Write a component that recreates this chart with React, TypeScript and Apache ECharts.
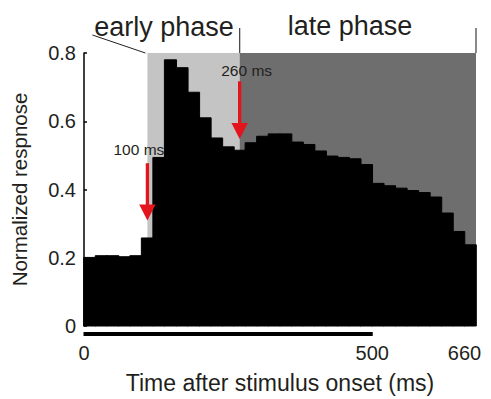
import React, { useEffect, useRef } from "react";
import * as echarts from "echarts";

// ---- data ----
const binStarts = [0, 20, 40, 60, 80, 100, 120, 140, 160, 180, 200, 220, 240, 260, 280, 300, 320, 340, 360, 380, 400, 420, 440, 460, 480, 500, 520, 540, 560, 580, 600, 620, 640, 660];
const binWidth = 20;
const responses = [0.201, 0.206, 0.206, 0.203, 0.206, 0.258, 0.494, 0.780, 0.757, 0.685, 0.610, 0.551, 0.525, 0.515, 0.537, 0.556, 0.563, 0.563, 0.539, 0.532, 0.513, 0.498, 0.494, 0.490, 0.473, 0.418, 0.411, 0.404, 0.397, 0.391, 0.378, 0.331, 0.277, 0.238];
const xTickLabels = [0, 500, 660];
const phaseNames = ["early phase", "late phase"];
const phaseStarts = [110, 270];
const phaseEnds = [270, 680];
const phaseTop = 0.8;
const arrowTimes = [110, 270];
const arrowStartValues = [0.477, 0.717];
const arrowTipValues = [0.309, 0.548];
const arrowLabels = ["100 ms", "260 ms"];
const scaleBarRange = [0, 500];

// ---- styles ----
const FONT = "'Liberation Sans', Arial, Helvetica, sans-serif";
const TEXT = "#231f20";
const phaseColors = ["#c4c4c4", "#6e6e6e"];
const arrowLabelOffsets = [
  [-8.5, -14],
  [7, -10.6],
];

export default function App() {
  const ref = useRef<HTMLDivElement>(null);

  useEffect(() => {
    if (!ref.current) return;
    const chart = echarts.init(ref.current, undefined, { renderer: "svg" });

    const option: any = {
      animation: false,
      backgroundColor: "#ffffff",
      textStyle: { fontFamily: FONT },
      grid: { left: 84, right: 15, top: 53, bottom: 64 },
      xAxis: {
        type: "value",
        min: 0,
        max: 680,
        interval: 20,
        axisLine: { show: false },
        axisTick: { show: false },
        splitLine: { show: false },
        axisLabel: {
          fontSize: 20,
          color: TEXT,
          fontFamily: FONT,
          margin: 17,
          formatter: (v: number) => (xTickLabels.indexOf(v) >= 0 ? String(v) : ""),
        },
        name: "Time after stimulus onset (ms)",
        nameLocation: "middle",
        nameGap: 45,
        nameTextStyle: { fontSize: 23, color: TEXT, fontFamily: FONT },
      },
      yAxis: {
        type: "value",
        min: 0,
        max: 0.8,
        interval: 0.2,
        axisLine: { show: true, lineStyle: { color: "#000", width: 1.5 } },
        axisTick: { show: true, inside: true, length: 3, lineStyle: { color: "#000", width: 1.5 } },
        splitLine: { show: false },
        axisLabel: {
          fontSize: 20,
          color: TEXT,
          fontFamily: FONT,
          margin: 8,
          formatter: (v: number) => (v === 0 ? "0" : v.toFixed(1)),
        },
        name: "Normalized respnose",
        nameLocation: "middle",
        nameGap: 54,
        nameTextStyle: { fontSize: 20.5, color: TEXT, fontFamily: FONT },
        z: 5,
      },
      graphic: [
        {
          type: "text",
          x: 164,
          y: 27,
          style: { text: phaseNames[0], fontSize: 27, fontFamily: FONT, fill: TEXT, textAlign: "center", textVerticalAlign: "middle" },
        },
        {
          type: "text",
          x: 350,
          y: 26,
          style: { text: phaseNames[1], fontSize: 27, fontFamily: FONT, fill: TEXT, textAlign: "center", textVerticalAlign: "middle" },
        },
      ],
      series: [
        {
          type: "custom",
          name: "phases",
          z: 1,
          clip: false,
          data: phaseStarts.map((s, i) => [s, phaseEnds[i], phaseTop, i]),
          renderItem: (params: any, api: any) => {
            const i = api.value(3);
            const p0 = api.coord([api.value(0), api.value(2)]);
            const p1 = api.coord([api.value(1), 0]);
            const children: any[] = [
              {
                type: "rect",
                shape: { x: p0[0], y: p0[1], width: p1[0] - p0[0], height: p1[1] - p0[1] },
                style: { fill: phaseColors[i] },
              },
              {
                type: "line",
                shape: { x1: p1[0], y1: p0[1], x2: p1[0], y2: p0[1] - 25 },
                style: { stroke: "#4a4a4a", lineWidth: 1.3 },
              },
            ];
            if (i === 0) {
              children.push({
                type: "line",
                shape: { x1: p0[0] - 2, y1: p0[1], x2: p0[0] - 55, y2: p0[1] - 18 },
                style: { stroke: "#231f20", lineWidth: 1 },
              });
            }
            return { type: "group", children };
          },
        },
        {
          type: "custom",
          name: "response",
          z: 2,
          data: binStarts.map((s, i) => [s, s + binWidth, responses[i]]),
          renderItem: (params: any, api: any) => {
            const p0 = api.coord([api.value(0), api.value(2)]);
            const p1 = api.coord([api.value(1), 0]);
            return {
              type: "rect",
              shape: { x: p0[0] - 0.3, y: p0[1], width: p1[0] - p0[0] + 0.6, height: p1[1] - p0[1] },
              style: { fill: "#000", stroke: "#000", lineWidth: 1 },
            };
          },
        },
        {
          type: "custom",
          name: "arrows",
          z: 3,
          clip: false,
          data: arrowTimes.map((t, i) => [t, arrowStartValues[i], arrowTipValues[i], i]),
          renderItem: (params: any, api: any) => {
            const i = api.value(3);
            const start = api.coord([api.value(0), api.value(1)]);
            const tip = api.coord([api.value(0), api.value(2)]);
            const headH = 16;
            const headW = 8.2;
            const shaftW = 3.3;
            const x = start[0];
            return {
              type: "group",
              children: [
                {
                  type: "rect",
                  shape: { x: x - shaftW / 2, y: start[1], width: shaftW, height: tip[1] - headH - start[1] + 1 },
                  style: { fill: "#e3141b" },
                },
                {
                  type: "polygon",
                  shape: { points: [[x - headW, tip[1] - headH], [x + headW, tip[1] - headH], [x, tip[1]]] },
                  style: { fill: "#e3141b" },
                },
                {
                  type: "text",
                  x: x + arrowLabelOffsets[i][0],
                  y: start[1] + arrowLabelOffsets[i][1],
                  style: {
                    text: arrowLabels[i],
                    fontSize: 15.5,
                    fontFamily: FONT,
                    fill: TEXT,
                    textAlign: "center",
                    textVerticalAlign: "middle",
                  },
                },
              ],
            };
          },
        },
        {
          type: "custom",
          name: "scalebar",
          z: 3,
          clip: false,
          data: [scaleBarRange],
          renderItem: (params: any, api: any) => {
            const a = api.coord([api.value(0), 0]);
            const b = api.coord([api.value(1), 0]);
            return {
              type: "rect",
              shape: { x: a[0] - 0.5, y: a[1] + 6, width: b[0] - a[0] + 1, height: 4 },
              style: { fill: "#000" },
            };
          },
        },
      ],
    };

    chart.setOption(option);
    return () => chart.dispose();
  }, []);

  return (
    <div
      ref={ref}
      style={{ position: "fixed", left: 0, top: 0, width: 491, height: 399, background: "#fff" }}
    />
  );
}
